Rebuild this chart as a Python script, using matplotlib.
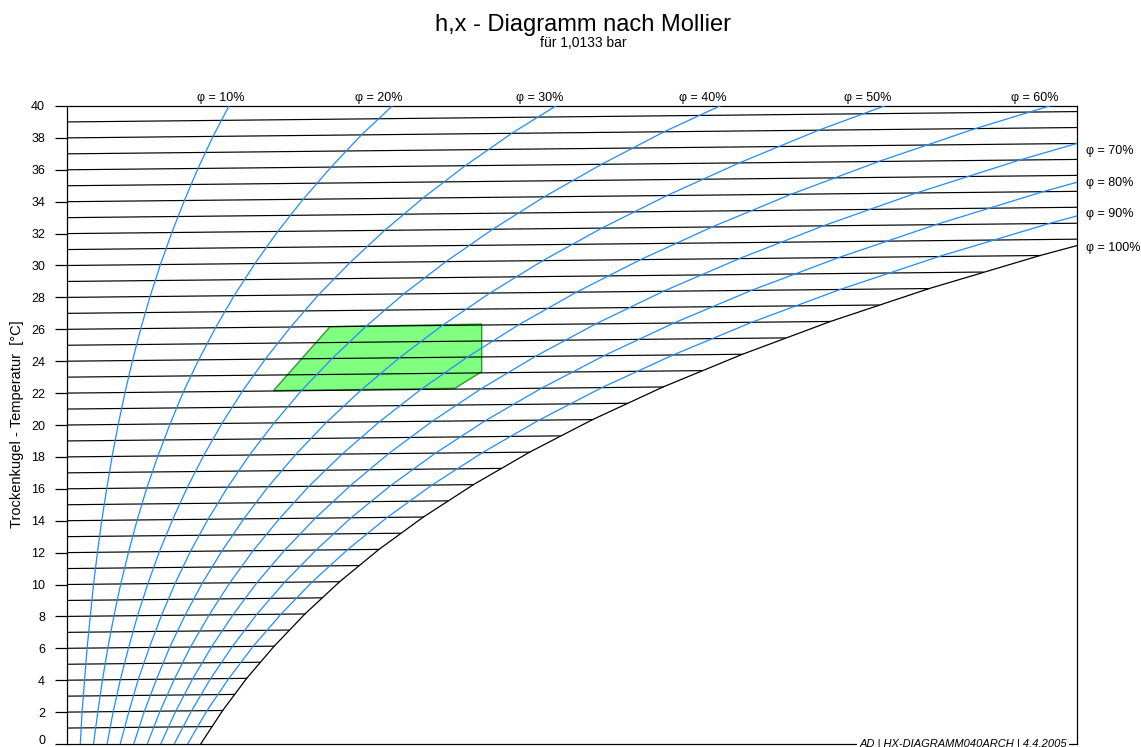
import matplotlib
matplotlib.use('Agg')
import matplotlib.pyplot as plt
import matplotlib.transforms as mtransforms
from matplotlib.patches import Polygon

plt.rcParams['font.family'] = ['Liberation Sans', 'DejaVu Sans']

# ---------------- data ----------------
# dry-bulb temperatures (°C) at which the humidity curves are tabulated
temps = [-2, 0, 2, 4, 6, 8, 10, 12, 14, 16, 18, 20, 22, 24, 26, 28, 30, 32, 34, 36, 38, 40]

# water content x (g/kg) of each relative-humidity curve at those temperatures
phi_10 = [0.32, 0.38, 0.43, 0.50, 0.57, 0.66, 0.75, 0.86, 0.98, 1.12, 1.27, 1.44, 1.63, 1.84, 2.07, 2.33, 2.62, 2.94, 3.29, 3.67, 4.09, 4.56]
phi_20 = [0.65, 0.75, 0.87, 1.00, 1.15, 1.32, 1.51, 1.73, 1.97, 2.24, 2.55, 2.89, 3.26, 3.69, 4.16, 4.68, 5.26, 5.90, 6.61, 7.39, 8.24, 9.20]
phi_30 = [0.97, 1.13, 1.30, 1.50, 1.73, 1.98, 2.27, 2.59, 2.96, 3.37, 3.83, 4.34, 4.91, 5.55, 6.26, 7.04, 7.92, 8.89, 9.96, 11.14, 12.44, 13.90]
phi_40 = [1.30, 1.50, 1.74, 2.00, 2.31, 2.65, 3.03, 3.46, 3.95, 4.50, 5.11, 5.80, 6.56, 7.42, 8.37, 9.42, 10.60, 11.91, 13.35, 14.95, 16.70, 18.67]
phi_50 = [1.62, 1.88, 2.17, 2.51, 2.88, 3.31, 3.79, 4.34, 4.95, 5.63, 6.40, 7.26, 8.23, 9.30, 10.50, 11.83, 13.31, 14.96, 16.78, 18.80, 21.02, 23.51]
phi_60 = [1.95, 2.26, 2.61, 3.01, 3.46, 3.98, 4.56, 5.21, 5.95, 6.77, 7.70, 8.74, 9.90, 11.20, 12.64, 14.25, 16.04, 18.04, 20.25, 22.70, 25.40, 28.43]
phi_70 = [2.28, 2.64, 3.05, 3.52, 4.05, 4.65, 5.32, 6.09, 6.95, 7.92, 9.00, 10.22, 11.58, 13.10, 14.79, 16.68, 18.80, 21.15, 23.75, 26.64, 29.83, 33.42]
phi_80 = [2.60, 3.02, 3.49, 4.02, 4.63, 5.31, 6.09, 6.97, 7.95, 9.06, 10.31, 11.70, 13.27, 15.02, 16.97, 19.14, 21.58, 24.29, 27.29, 30.63, 34.33, 38.49]
phi_90 = [2.93, 3.40, 3.92, 4.53, 5.21, 5.99, 6.86, 7.85, 8.96, 10.21, 11.62, 13.20, 14.96, 16.95, 19.15, 21.62, 24.38, 27.46, 30.87, 34.68, 38.89, 43.64]
phi_100 = [3.26, 3.77, 4.36, 5.03, 5.80, 6.66, 7.63, 8.73, 9.97, 11.37, 12.94, 14.70, 16.67, 18.89, 21.35, 24.11, 27.21, 30.66, 34.49, 38.77, 43.51, 48.87]

phi_curves = [phi_10, phi_20, phi_30, phi_40, phi_50, phi_60, phi_70, phi_80, phi_90, phi_100]

# isotherm lines: temperature and x (g/kg) where each meets the saturation curve
iso_temps = list(range(1, 40))
iso_end_x = [4.06, 4.36, 4.69, 5.03, 5.40, 5.80, 6.21, 6.66, 7.13, 7.63,
             8.17, 8.73, 9.33, 9.97, 10.65, 11.37, 12.13, 12.94, 13.79, 14.70,
             15.66, 16.67, 17.74, 18.89, 20.08, 21.35, 22.70, 24.11, 25.61, 27.21,
             28.87, 30.66, 32.52, 34.49, 36.58, 38.77, 41.06, 43.51, 46.15]

# labels of the humidity curves
top_labels = ['φ = 10%', 'φ = 20%', 'φ = 30%', 'φ = 40%', 'φ = 50%', 'φ = 60%']
top_label_x = [4.30, 8.73, 13.22, 17.77, 22.40, 27.07]
right_labels = ['φ = 70%', 'φ = 80%', 'φ = 90%', 'φ = 100%']
right_label_y = [37.2, 35.2, 33.2, 31.1]

# comfort zone (x in g/kg, temperature in °C)
comfort_x = [5.78, 7.36, 11.60, 11.60, 10.85]
comfort_t = [22.02, 25.99, 26.06, 23.07, 22.05]

y_ticks = list(range(0, 41, 2))

# ---------------- chart geometry ----------------
XMAX = 28.25          # g/kg at right border
SKEW = 0.65 / XMAX    # slope of the isotherms in the diagram


def ycoord(t, x):
    return t + SKEW * x


fig = plt.figure(figsize=(11.41, 7.47), dpi=100)
ax = fig.add_axes([66.7 / 1141, 3 / 747, 1010.6 / 1141, 638 / 747])
ax.set_xlim(0, XMAX)
ax.set_ylim(0, 40)

blue = '#1f8cff'

# comfort zone
poly_pts = [(x, ycoord(t, x)) for x, t in zip(comfort_x, comfort_t)]
ax.add_patch(Polygon(poly_pts, closed=True, facecolor='#80ff80',
                     edgecolor='#2e9a2e', lw=1.0, zorder=1))

# isotherms
for t, xe in zip(iso_temps, iso_end_x):
    ax.plot([0, xe], [ycoord(t, 0), ycoord(t, xe)], color='black', lw=0.85, zorder=2)

# relative humidity curves
for i, xs in enumerate(phi_curves):
    ys = [ycoord(t, x) for t, x in zip(temps, xs)]
    col = 'black' if i == len(phi_curves) - 1 else blue
    ax.plot(xs, ys, color=col, lw=0.9, zorder=3)

# curve labels
for lab, x in zip(top_labels, top_label_x):
    ax.text(x, 40.52, lab, ha='center', va='center', fontsize=9, clip_on=False)
for lab, y in zip(right_labels, right_label_y):
    ax.annotate(lab, xy=(XMAX, y), xytext=(6, 0), textcoords='offset points',
                ha='left', va='center', fontsize=9, annotation_clip=False)

# axes styling
ax.set_xticks([])
ax.set_yticks(y_ticks)
ax.set_yticklabels([str(v) for v in y_ticks], fontsize=9, va='center_baseline')
ax.tick_params(axis='y', direction='out', length=9, width=0.9, pad=6.5)
for sp in ax.spines.values():
    sp.set_linewidth(0.9)

# keep the lowest tick label inside the figure
fig.canvas.draw()
zero_lab = ax.get_yticklabels()[0]
zero_lab.set_transform(zero_lab.get_transform() +
                       mtransforms.ScaledTranslation(0, 3.5 / 72, fig.dpi_scale_trans))

fig.text(17.5 / 1141, 1 - 424 / 747, 'Trockenkugel - Temperatur  [°C]',
         rotation=90, ha='center', va='center', fontsize=10.5)

fig.text(583 / 1141, 1 - 31 / 747, 'h,x - Diagramm nach Mollier',
         ha='center', va='baseline', fontsize=17)
fig.text(583 / 1141, 1 - 47 / 747, 'für 1,0133 bar',
         ha='center', va='baseline', fontsize=10)

ax.text((1067 - 66.7) / 1010.6, 0.0, 'AD | HX-DIAGRAMM040ARCH | 4.4.2005',
        transform=ax.transAxes, ha='right', va='center', fontsize=8,
        style='italic', zorder=10, clip_on=False,
        bbox=dict(facecolor='white', edgecolor='none', pad=1.5))

fig.savefig('out.png', dpi=100)
